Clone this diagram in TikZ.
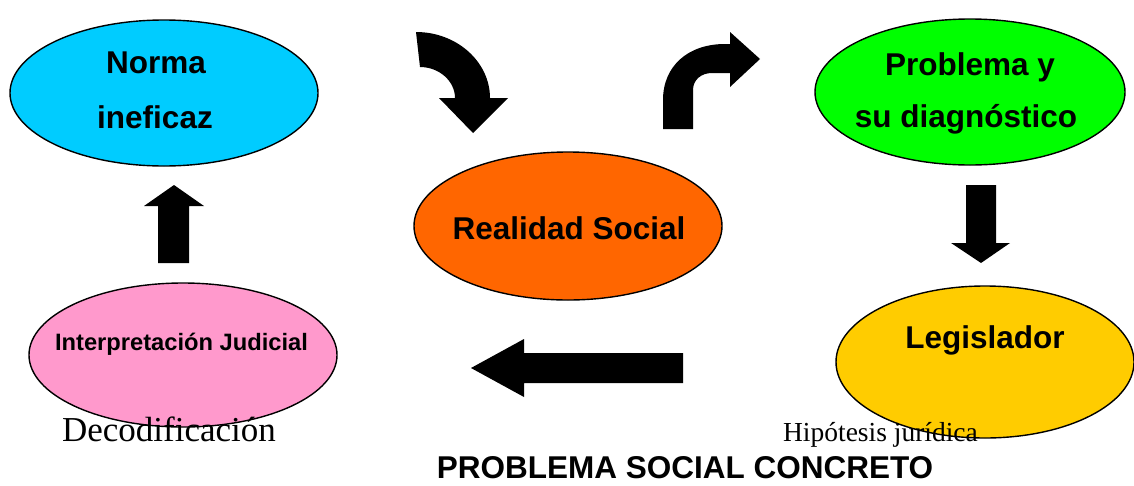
\documentclass[tikz,border=0pt]{standalone}
\usepackage{fontspec}
\usetikzlibrary{shapes.geometric}
\newfontfamily\arialf{Liberation Sans}
\newfontfamily\timesf{Liberation Serif}
\definecolor{ccyan}{HTML}{00CCFF}
\definecolor{cgreen}{HTML}{00FF00}
\definecolor{corange}{HTML}{FF6600}
\definecolor{cpink}{HTML}{FF99CC}
\definecolor{cyellow}{HTML}{FFCC00}
\tikzset{
  ell/.style={ellipse, draw=black, line width=1.4pt, inner sep=0pt},
  lbl/.style={anchor=base, inner sep=0pt, font=\arialf\bfseries\fontsize{31.5}{36}\selectfont},
  small/.style={anchor=base, inner sep=0pt, font=\arialf\bfseries\fontsize{23.7}{28}\selectfont},
  serif/.style={anchor=base, inner sep=0pt, text=black},
  blockarrow/.style={fill=black, draw=none}
}
\begin{document}
\begin{tikzpicture}[x=1pt, y=-1pt]
\useasboundingbox (0,0) rectangle (1134,485);
% ellipses
\node[ell, fill=ccyan, minimum width=308pt, minimum height=146pt] (norma) at (164,93) {};
\node[ell, fill=cgreen, minimum width=310pt, minimum height=146pt] (prob) at (970,92) {};
\node[ell, fill=corange, minimum width=308pt, minimum height=148pt] (real) at (568,226) {};
\node[ell, fill=cpink, minimum width=308pt, minimum height=144pt] (interp) at (183,355) {};
\node[ell, fill=cyellow, minimum width=298pt, minimum height=152pt] (legis) at (985,362) {};
% labels
\node[lbl] (tnorma) at (156,73) {Norma};
\node[lbl] (tinef) at (155,128) {ineficaz};
\node[lbl] (tprob) at (970,75) {Problema y};
\node[lbl] (tdiag) at (966,127) {su diagnóstico};
\node[lbl] (treal) at (569,239) {Realidad Social};
\node[small] (tinterp) at (181.5,350) {Interpretación Judicial};
\node[lbl] (tlegis) at (985,348) {Legislador};
\node[serif, font=\timesf\fontsize{35}{40}\selectfont] (tdeco) at (169,441) {Decodificación};
\node[serif, font=\timesf\fontsize{27.5}{32}\selectfont] (thip) at (880.5,441) {Hipótesis jurídica};
\node[lbl] (ttitle) at (685,478) {PROBLEMA SOCIAL CONCRETO};
% block arrows
% up arrow (interp -> norma)
\fill[blockarrow] (174,185) -- (204,206) -- (189,206) -- (189,263) -- (158,263) -- (158,206) -- (144,206) -- cycle;
% down arrow (prob -> legis)
\fill[blockarrow] (966,185) -- (996,185) -- (996,243) -- (1010,243) -- (981,263) -- (951,243) -- (966,243) -- cycle;
% left arrow (legis -> interp)
\fill[blockarrow] (471,368) -- (524,339) -- (524,353) -- (683,353) -- (683,383) -- (524,383) -- (524,397) -- cycle;
% curved arrow norma -> realidad
\fill[blockarrow] (416,32) .. controls (457,32) and (490,62) .. (490,98)
  -- (508,98) -- (473,133) -- (439,98) -- (455,98)
  .. controls (455,81) and (439,67) .. (420,67) -- cycle;
% curved arrow realidad -> problema
\fill[blockarrow] (663,129) -- (663,100) .. controls (663,66) and (688,44) .. (725,44)
  -- (730,44) -- (730,32) -- (760,59) -- (730,87) -- (730,73) -- (712,73)
  .. controls (701,73) and (693,80) .. (693,90) -- (693,129) -- cycle;
\end{tikzpicture}
\end{document}
